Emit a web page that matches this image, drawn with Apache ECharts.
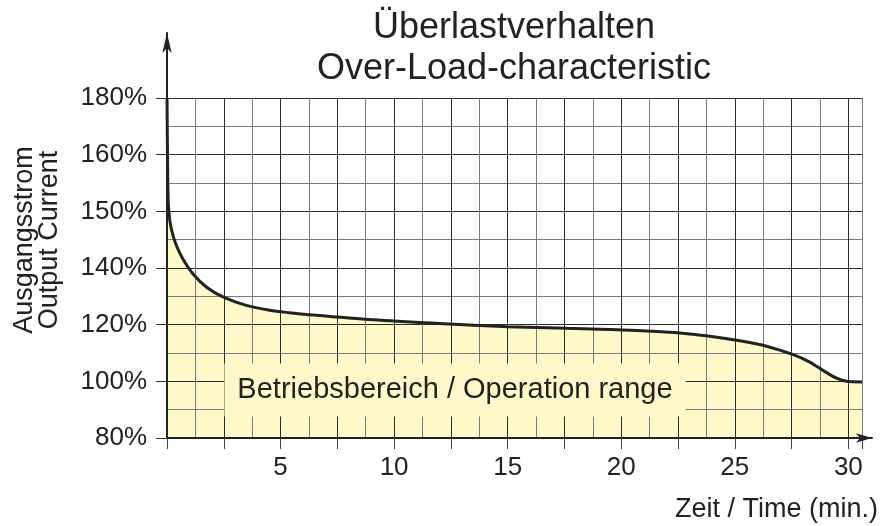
<!DOCTYPE html>
<html>
<head>
<meta charset="utf-8">
<script src="https://cdn.jsdelivr.net/npm/echarts@6/dist/echarts.min.js"></script>
<style>
    html, body {margin: 0; padding: 0; background: #fff;}
    #chart {width: 881px; height: 526px;}
</style>
</head>
<body>
<div id="chart"></div>
<script>
// Zeit (min.) und Ausgangsstrom (%)
var timeMin = [0, 0.04, 0.08, 0.19, 0.41, 0.70, 1.14, 1.73, 2.46, 3.49, 4.52, 5.4, 6.13, 9.07, 12.0, 15.0, 17.6, 19.05, 20.08, 21.33, 22.58, 23.9, 25.15, 26.4, 27.57, 28.3, 28.89, 29.48, 29.92, 30.6];
var currentPct = [180, 154, 150, 146.9, 144, 141.6, 138, 133.3, 129.8, 126.8, 125.1, 124.2, 123.6, 121.7, 120.4, 119.3, 118.7, 118.4, 118.1, 117.7, 117.1, 115.95, 114.4, 112.4, 109.4, 106.8, 103.8, 101.1, 100.0, 99.8];

// Y-Achse ist nicht linear: gleich weite Schritte zwischen diesen Werten
var yTickValues = [80, 100, 120, 140, 150, 160, 180];
var yTickLabels = ['80%', '100%', '120%', '140%', '150%', '160%', '180%'];
var xLabelValues = [5, 10, 15, 20, 25, 30];

var ink = '#222';
var fontName = '"Liberation Sans", Arial, Helvetica, sans-serif';
var fillColor = '#fff8c8';

// Prozent -> Position auf der gestuften Achse
function toIdx(p) {
    for (var i = 1; i < yTickValues.length; i++) {
        if (p <= yTickValues[i]) {
            var a = yTickValues[i - 1], b = yTickValues[i];
            return i - 1 + (p - a) / (b - a);
        }
    }
    return yTickValues.length - 1;
}

var curve = timeMin.map(function (t, i) {
    return [t, toIdx(currentPct[i])];
});

var hidden = {show: false};

var option = {
    animation: false,
    textStyle: {fontFamily: fontName},
    grid: [
        {left: 167, right: 19, top: 98, bottom: 88},
        // nur fuer die Pfeile der Achsen
        {left: 167, right: 9, top: 33, bottom: 88}
    ],
    xAxis: [
        {
            gridIndex: 0, type: 'value', min: 0, max: 30.6, interval: 1.25,
            axisLine: hidden, axisTick: hidden, axisLabel: hidden,
            splitLine: {show: true, lineStyle: {color: ['#2a2a2a', '#7a7a7a'], width: 1}}
        },
        {
            gridIndex: 0, type: 'value', position: 'bottom', min: 0, max: 30.6, interval: 2.5,
            axisLine: hidden,
            axisTick: {show: true, length: 11, lineStyle: {color: '#444', width: 1}},
            axisLabel: {
                margin: 17, fontSize: 26, color: ink,
                formatter: function (v) {
                    return xLabelValues.indexOf(v) >= 0 ? String(v) : '';
                }
            },
            splitLine: hidden,
            name: 'Zeit / Time (min.)',
            nameLocation: 'end',
            nameGap: 16,
            nameTextStyle: {fontSize: 27, color: ink, align: 'right', verticalAlign: 'top', padding: [58, 0, 0, 0]}
        },
        {
            gridIndex: 1, type: 'value', min: 0, max: 1,
            axisLine: {show: true, symbol: ['none', 'arrow'], symbolSize: [7, 16], lineStyle: {color: ink, width: 2}},
            axisTick: hidden, axisLabel: hidden, splitLine: hidden
        }
    ],
    yAxis: [
        {
            gridIndex: 0, type: 'value', min: 0, max: 6, interval: 1,
            axisLine: hidden,
            axisTick: {show: true, length: 11, lineStyle: {color: '#333', width: 1}},
            axisLabel: {
                margin: 20, fontSize: 26, color: ink,
                formatter: function (v) {
                    return yTickLabels[v] || '';
                }
            },
            splitLine: {show: true, lineStyle: {color: '#2a2a2a', width: 1}},
            minorTick: {show: false, splitNumber: 2},
            minorSplitLine: {show: true, lineStyle: {color: '#7a7a7a', width: 1}}
        },
        {
            gridIndex: 1, type: 'value', min: 0, max: 1,
            axisLine: {show: true, symbol: ['none', 'arrow'], symbolSize: [7, 20], lineStyle: {color: ink, width: 2}},
            axisTick: hidden, axisLabel: hidden, splitLine: hidden
        }
    ],
    series: [
        {
            // Flaeche unter den Gitterlinien
            type: 'line', xAxisIndex: 0, yAxisIndex: 0, data: curve,
            smooth: 0.3, symbol: 'none', silent: true, z: -1,
            lineStyle: {width: 0},
            areaStyle: {color: fillColor, opacity: 1}
        },
        {
            type: 'line', xAxisIndex: 0, yAxisIndex: 0, data: curve,
            smooth: 0.3, symbol: 'none', z: 5,
            lineStyle: {color: ink, width: 3}
        }
    ],
    graphic: [
        {
            type: 'text', x: 514, y: 8, z: 10,
            style: {
                text: 'Überlastverhalten\nOver-Load-characteristic',
                font: '36px ' + fontName, fill: ink,
                align: 'center', verticalAlign: 'top', lineHeight: 41
            }
        },
        {
            type: 'text', x: 37, y: 240, rotation: Math.PI / 2, z: 10,
            style: {
                text: 'Ausgangsstrom\nOutput Current',
                font: '27px ' + fontName, fill: ink,
                align: 'center', verticalAlign: 'middle', lineHeight: 25
            }
        },
        {
            type: 'text', x: 455, y: 390, z: 10,
            style: {
                text: 'Betriebsbereich / Operation range',
                font: '29px ' + fontName, fill: ink,
                align: 'center', verticalAlign: 'middle', lineHeight: 29,
                backgroundColor: fillColor, padding: [12, 13]
            }
        }
    ]
};

var chart = echarts.init(document.getElementById('chart'));
chart.setOption(option);
</script>
</body>
</html>
